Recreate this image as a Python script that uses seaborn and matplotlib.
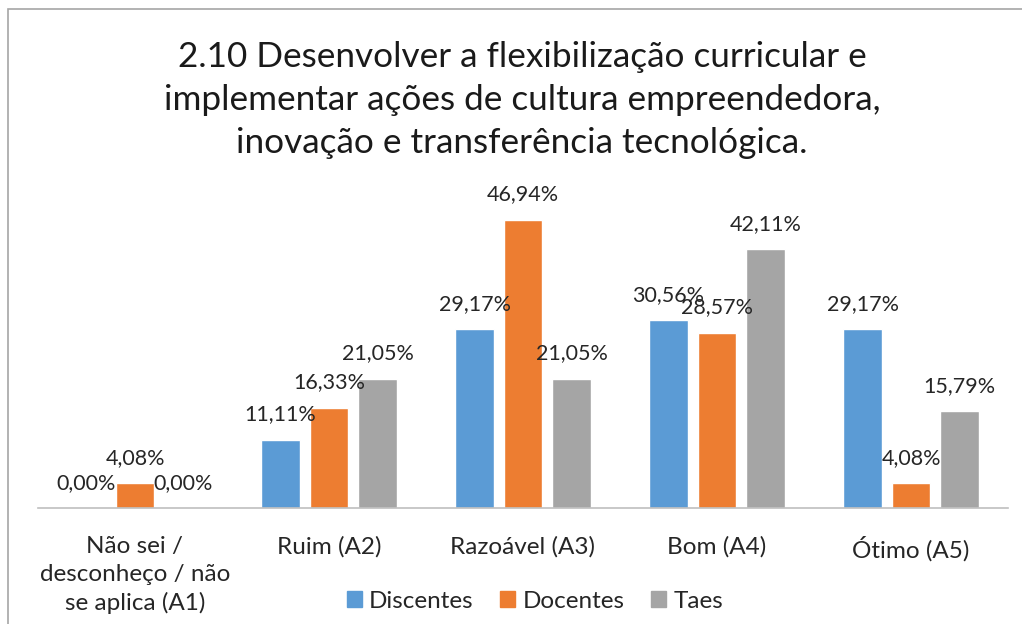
import pandas as pd
import numpy as np
import matplotlib.pyplot as plt
import seaborn as sns
from matplotlib.patches import Rectangle

categorias = ['Não sei /\ndesconheço / não\nse aplica (A1)', 'Ruim (A2)',
              'Razoável (A3)', 'Bom (A4)', 'Ótimo (A5)']
grupos = ['Discentes', 'Docentes', 'Taes']
discentes = [0.00, 11.11, 29.17, 30.56, 29.17]
docentes = [4.08, 16.33, 46.94, 28.57, 4.08]
taes = [0.00, 21.05, 21.05, 42.11, 15.79]
cores = ['#5B9BD5', '#ED7D31', '#A5A5A5']

df = pd.DataFrame({'Categoria': categorias * 3,
                   'Grupo': np.repeat(grupos, len(categorias)),
                   'Valor': discentes + docentes + taes})

sns.set_style('white')
plt.rcParams['font.family'] = ['Lato', 'DejaVu Sans']

fig = plt.figure(figsize=(10.22, 6.24), dpi=100)
ax = fig.add_axes([38 / 1022, 116 / 624, 970 / 1022, 318 / 624])

sns.barplot(data=df, x='Categoria', y='Valor', hue='Grupo', palette=cores,
            saturation=1, width=0.75, gap=0.2, ax=ax, legend=False)

for cont, vals in zip(ax.containers, [discentes, docentes, taes]):
    ax.bar_label(cont, labels=[f'{v:.2f}%'.replace('.', ',') for v in vals],
                 padding=11, fontsize=15.5, color='#262626')

ax.set_ylim(0, 51.8)
ax.set_xlim(-0.5, 4.5)
ax.set_xlabel('')
ax.set_ylabel('')
ax.set_yticks([])
ax.tick_params(axis='x', length=0, pad=20, labelsize=17.5, labelcolor='#262626')
for t in ax.get_xticklabels():
    t.set_linespacing(1.4)
    t.set_va('top')
for s in ['top', 'right', 'left']:
    ax.spines[s].set_visible(False)
ax.spines['bottom'].set_color('#BFBFBF')
ax.spines['bottom'].set_linewidth(1.2)

fig.text(522 / 1022, 1 - 41 / 624,
         '2.10 Desenvolver a flexibilização curricular e\n'
         'implementar ações de cultura empreendedora,\n'
         'inovação e transferência tecnológica.',
         ha='center', va='top', fontsize=25.3, color='#1a1a1a', linespacing=1.43)

handles = [Rectangle((0, 0), 1, 1, color=c) for c in cores]
fig.legend(handles, grupos, loc='center', bbox_to_anchor=(535 / 1022, 1 - 601 / 624),
           ncol=3, frameon=False, fontsize=17.5, handlelength=0.62, handleheight=0.62,
           handletextpad=0.3, columnspacing=1.1, labelcolor='#262626')

fig.add_artist(Rectangle((8 / 1022, -0.1), 1.2, 1 - 9 / 624 + 0.1, transform=fig.transFigure,
                         fill=False, edgecolor='#A6A6A6', linewidth=1.2))

fig.savefig('out.png', dpi=100)
